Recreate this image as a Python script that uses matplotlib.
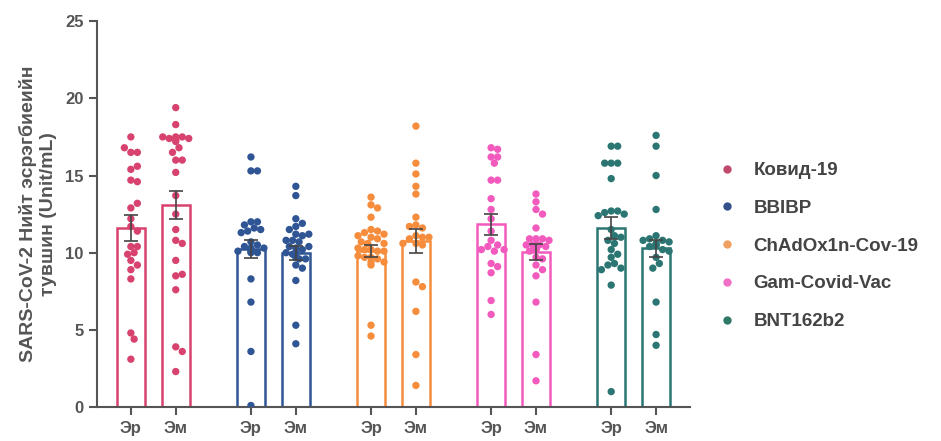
import numpy as np
import matplotlib
matplotlib.use('Agg')
import matplotlib.pyplot as plt
from matplotlib.lines import Line2D

plt.rcParams['font.family'] = ['Liberation Sans', 'DejaVu Sans']

# данные (Unit/mL)
groups = ['Ковид-19', 'BBIBP', 'ChAdOx1n-Cov-19', 'Gam-Covid-Vac', 'BNT162b2']
colors = ['#d8426f', '#2f5594', '#f58d3d', '#f25bbd', '#2b7572']
legend_colors = ['#c04a6c', '#34508a', '#f0a060', '#f070c8', '#2e7a66']
sub_labels = ['Эр', 'Эм']

kovid_er = [17.5, 16.5, 16.5, 16.8, 15.4, 15.6, 14.7, 14.6, 12.9, 13.2, 12.2, 11.7,
            11.4, 10.4, 10.4, 10.0, 9.9, 9.5, 9.2, 8.9, 8.3, 4.8, 4.4, 3.1]
kovid_em = [19.4, 18.3, 17.5, 17.5, 17.4, 17.4, 17.5, 17.3, 17.2, 16.8, 16.5, 16.0,
            16.0, 15.2, 13.7, 12.5, 11.5, 10.8, 10.6, 9.5, 8.5, 8.6, 7.6, 3.9, 3.6, 2.3]
bbibp_er = [16.2, 15.3, 15.3, 12.0, 12.0, 11.8, 11.6, 11.4, 11.5, 11.3, 10.7, 10.5,
            10.4, 10.3, 10.2, 10.1, 10.0, 10.3, 10.1, 10.0, 8.3, 6.8, 3.6, 0.1]
bbibp_em = [14.3, 13.7, 12.2, 11.9, 11.7, 11.5, 11.2, 11.1, 11.2, 10.8, 10.8, 10.7,
            10.4, 10.3, 10.2, 10.4, 10.0, 9.9, 10.0, 9.6, 9.6, 9.7, 9.2, 9.0, 8.2, 5.3, 4.1]
chad_er = [13.6, 13.1, 12.9, 12.3, 11.5, 11.4, 11.3, 11.2, 11.0, 11.1, 10.9, 10.6,
           10.7, 10.6, 10.2, 10.1, 10.3, 10.2, 10.1, 9.7, 9.6, 9.7, 9.8, 9.4, 9.2, 9.4, 5.3, 4.6]
chad_em = [18.2, 15.8, 15.1, 14.3, 13.8, 12.3, 11.8, 11.6, 11.7, 11.1, 11.0, 10.9,
           11.0, 10.6, 10.5, 10.6, 8.1, 7.8, 6.2, 3.4, 1.4]
gam_er = [16.8, 16.7, 16.2, 16.2, 15.8, 14.7, 14.7, 13.5, 12.8, 12.2, 11.4, 10.8,
          10.5, 10.4, 10.1, 10.2, 10.2, 9.3, 9.1, 8.7, 6.9, 6.0]
gam_em = [13.8, 13.3, 12.8, 12.5, 11.6, 10.9, 10.9, 10.9, 10.8, 10.5, 10.5, 10.5,
          10.4, 10.5, 10.2, 10.2, 10.1, 10.2, 9.7, 9.6, 9.2, 8.9, 8.5, 6.8, 3.4, 1.7]
bnt_er = [16.9, 16.9, 15.8, 15.8, 15.8, 14.8, 12.7, 12.7, 12.6, 12.5, 12.4, 11.5,
          11.1, 10.8, 11.0, 10.6, 10.2, 9.9, 9.7, 9.3, 9.2, 9.0, 8.9, 7.9, 1.0]
bnt_em = [17.6, 16.9, 15.0, 12.8, 11.1, 10.8, 10.9, 10.7, 10.8, 10.5, 10.5, 10.4,
          10.6, 10.2, 10.1, 9.7, 9.3, 9.0, 6.8, 4.7, 4.0]

points = [[kovid_er, kovid_em], [bbibp_er, bbibp_em], [chad_er, chad_em],
          [gam_er, gam_em], [bnt_er, bnt_em]]
means = [[11.6, 13.1], [10.25, 10.0], [10.1, 10.75], [11.85, 10.05], [11.6, 10.3]]
sems = [[0.86, 0.92], [0.6, 0.45], [0.38, 0.8], [0.68, 0.5], [0.7, 0.55]]

fig = plt.figure(figsize=(9.41, 4.41), dpi=100)
ax = fig.add_axes([0.103, 0.077, 0.630, 0.875])

step = 2.675
xs = []
for i in range(len(groups)):
    xs += [i * step, i * step + 1]
ax.set_xlim(-0.756, xs[-1] + 0.75)
ax.set_ylim(0, 25)


def swarm(vals, x0, d=6.5, maxoff=15.0):
    # простое размещение точек (в пикселях), с ограничением ширины
    px_x = ax.transData.transform([(0, 0), (1, 0)])
    sx = px_x[1, 0] - px_x[0, 0]
    px_y = ax.transData.transform([(0, 0), (0, 1)])
    sy = px_y[1, 1] - px_y[0, 1]
    placed = []
    offs = []
    for v in vals:
        yp = v * sy
        best = None
        for k in range(0, 40):
            for sgn in ([0] if k == 0 else [1, -1]):
                cand = sgn * k * d * 0.5
                if abs(cand) > maxoff:
                    continue
                if all((cand - px) ** 2 + (yp - py) ** 2 >= d ** 2
                       for px, py in placed):
                    best = cand
                    break
            if best is not None:
                break
        if best is None:
            best = 0.0
        placed.append((best, yp))
        offs.append(x0 + best / sx)
    return offs


k = 0
for gi in range(len(groups)):
    c = colors[gi]
    for si in range(2):
        x = xs[k]
        ax.bar(x, means[gi][si], width=0.62, facecolor='white', edgecolor=c,
               linewidth=1.8, zorder=2)
        vals = points[gi][si]
        ax.scatter(swarm(vals, x), vals, s=28, color=c, edgecolors='none', zorder=3)
        ax.errorbar(x, means[gi][si], yerr=sems[gi][si], fmt='none', ecolor='#444444',
                    elinewidth=1.2, capsize=5, capthick=1.2, zorder=4)
        k += 1

ax.set_xticks(xs)
ax.set_xticklabels(sub_labels * len(groups), fontsize=12, color='#555555',
                   fontweight='bold')
ax.set_yticks([0, 5, 10, 15, 20, 25])
ax.set_yticklabels(['0', '5', '10', '15', '20', '25'], fontsize=12, color='#555555',
                   fontweight='bold')
for s in ['top', 'right']:
    ax.spines[s].set_visible(False)
for s in ['left', 'bottom']:
    ax.spines[s].set_color('#555555')
    ax.spines[s].set_linewidth(1.5)
ax.tick_params(axis='both', colors='#555555', width=1.5, length=6)
ax.tick_params(axis='x', pad=4)

ax.set_ylabel('SARS-CoV-2 Нийт эсрэгбиеийн\nтувшин (Unit/mL)', fontsize=14,
              fontweight='bold', color='#555555', labelpad=6, linespacing=1.25)

handles = [Line2D([], [], marker='o', linestyle='none', markersize=6,
                  color=legend_colors[i], markeredgewidth=0) for i in range(len(groups))]
fig.legend(handles, groups, loc='center left', bbox_to_anchor=(0.745, 0.442),
           frameon=False, handletextpad=0.9, labelspacing=1.1, handlelength=1.0,
           prop={'size': 13.5, 'weight': 'bold'}, labelcolor='#444444')

fig.savefig('out.png', dpi=100)
